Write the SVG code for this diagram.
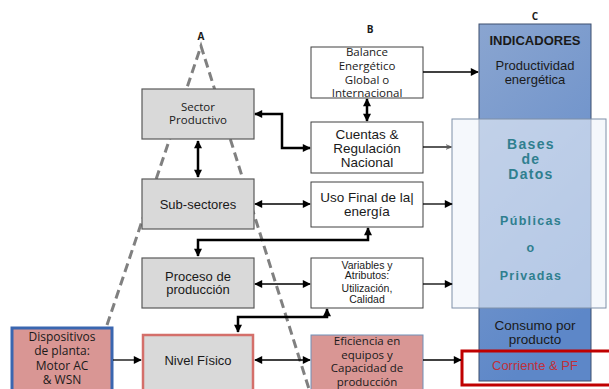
<svg xmlns="http://www.w3.org/2000/svg" width="609" height="389" viewBox="0 0 609 389">
<style>
.gray{fill:#d9d9d9;stroke:#595959;stroke-width:1.2}
.white{fill:#ffffff;stroke:#404040;stroke-width:1}
.t{font-family:"Liberation Sans",Arial,sans-serif;fill:#1a1a1a;text-anchor:middle}
.o{font-family:"Open Sans","Liberation Sans",sans-serif;fill:#1a1a1a;text-anchor:middle}
.lbl{font-family:"Open Sans","Liberation Sans",sans-serif;font-weight:bold;font-size:10px;fill:#1a1a1a;text-anchor:middle}
.db{font-family:"Liberation Sans",Arial,sans-serif;font-weight:bold;fill:#2f7f8f;text-anchor:middle;letter-spacing:1.3px}
.thick{fill:none;stroke:#000;stroke-width:2.5}
.thin{fill:none;stroke:#000;stroke-width:1.3}
.dash{fill:none;stroke:#808080;stroke-width:3;stroke-dasharray:9 5}
</style>
<defs>
<marker id="ah" viewBox="0 0 10 10" refX="9" refY="5" markerWidth="9" markerHeight="8" markerUnits="userSpaceOnUse" orient="auto-start-reverse">
<path d="M0,0 L10,5 L0,10 z" fill="#000"/>
</marker>
<marker id="ahs" viewBox="0 0 10 10" refX="9" refY="5" markerWidth="6" markerHeight="6" markerUnits="userSpaceOnUse" orient="auto">
<path d="M0,1 L10,5 L0,9" fill="none" stroke="#555" stroke-width="1.5"/>
</marker>
<linearGradient id="ind" x1="0" y1="0" x2="0.3" y2="1">
<stop offset="0" stop-color="#8aa5d0"/>
<stop offset="1" stop-color="#5d87c8"/>
</linearGradient>
</defs>

<g id="triangle">
<path class="dash" d="M107,325 L201,46 L309,389"/>
</g>
<g id="labels">
<text class="lbl" x="201" y="40">A</text>
<text class="lbl" x="370" y="33">B</text>
<text class="lbl" x="535" y="20">C</text>
</g>

<g id="indicadores">
<rect x="479" y="24" width="112" height="357" fill="url(#ind)" stroke="#3d4f6e" stroke-width="1"/>
<text class="t" x="535" y="45" font-size="13" font-weight="bold">INDICADORES</text>
<text class="t" x="535" y="70" font-size="13">Productividad</text>
<text class="t" x="535" y="84" font-size="13">energética</text>
<text class="t" x="535" y="330" font-size="13.5">Consumo por</text>
<text class="t" x="535" y="344" font-size="13.5">producto</text>
</g>

<g id="bases">
<rect x="452" y="119" width="154" height="189" fill="#eef3fa" fill-opacity="0.6" stroke="#7f90a8" stroke-width="1"/>
<text class="db" x="531" y="149" font-size="14">Bases</text>
<text class="db" x="531" y="164" font-size="14">de</text>
<text class="db" x="531" y="179" font-size="14">Datos</text>
<text class="db" x="531" y="225" font-size="12.5">Públicas</text>
<text class="db" x="531" y="252" font-size="12.5">o</text>
<text class="db" x="531" y="280" font-size="12.5">Privadas</text>
</g>

<g id="corriente">
<rect x="462" y="351" width="150" height="34" fill="none" stroke="#c00000" stroke-width="3"/>
<text class="t" x="535" y="370" font-size="13" style="fill:#c0303a">Corriente  &amp; PF</text>
</g>

<g id="sector">
<rect class="gray" x="142" y="89" width="112" height="50"/>
<text class="o" x="198" y="111" font-size="11.5">Sector</text>
<text class="o" x="198" y="124" font-size="11.5">Productivo</text>
</g>
<g id="subsectores">
<rect class="gray" x="142" y="179" width="112" height="50"/>
<text class="t" x="198" y="209" font-size="13">Sub-sectores</text>
</g>
<g id="proceso">
<rect class="gray" x="142" y="258" width="112" height="50"/>
<text class="t" x="198" y="281" font-size="13">Proceso de</text>
<text class="t" x="198" y="294" font-size="13">producción</text>
</g>
<g id="nivel">
<rect x="143" y="335" width="110" height="57" fill="#d9d9d9" stroke="#d46f6a" stroke-width="2.5"/>
<text class="t" x="198" y="365" font-size="13">Nivel Físico</text>
</g>
<g id="dispositivos">
<rect x="12" y="328" width="100" height="64" fill="#d99694" stroke="#3a66b0" stroke-width="3"/>
<text class="o" x="62" y="341" font-size="12">Dispositivos</text>
<text class="o" x="62" y="355" font-size="12">de planta:</text>
<text class="o" x="62" y="370" font-size="12">Motor AC</text>
<text class="o" x="62" y="384" font-size="12">&amp; WSN</text>
</g>

<g id="balance">
<rect class="white" x="311" y="47" width="112" height="51"/>
<text class="o" x="367" y="56" font-size="11.5">Balance</text>
<text class="o" x="367" y="70" font-size="11.5">Energético</text>
<text class="o" x="367" y="84" font-size="11.5">Global o</text>
<text class="o" x="367" y="97" font-size="11.5">Internacional</text>
</g>
<g id="cuentas">
<rect class="white" x="311" y="122" width="112" height="51"/>
<text class="t" x="367" y="139" font-size="13.5">Cuentas &amp;</text>
<text class="t" x="367" y="153" font-size="13.5">Regulación</text>
<text class="t" x="367" y="167" font-size="13.5">Nacional</text>
</g>
<g id="usofinal">
<rect class="white" x="311" y="182" width="112" height="45"/>
<text class="t" x="367" y="202" font-size="13.5">Uso Final de la|</text>
<text class="t" x="367" y="216" font-size="13.5">energía</text>
</g>
<g id="variables">
<rect class="white" x="311" y="258" width="112" height="50"/>
<text class="t" x="367" y="269" font-size="10.5">Variables y</text>
<text class="t" x="367" y="279" font-size="10.5">Atributos:</text>
<text class="t" x="367" y="292" font-size="10.5">Utilización,</text>
<text class="t" x="367" y="303" font-size="10.5">Calidad</text>
</g>
<g id="eficiencia">
<rect x="311" y="335" width="112" height="57" fill="#d99694" stroke="#6f8fb8" stroke-width="1"/>
<text class="o" x="367" y="345" font-size="11.5">Eficiencia en</text>
<text class="o" x="367" y="358.5" font-size="11.5">equipos y</text>
<text class="o" x="367" y="372" font-size="11.5">Capacidad de</text>
<text class="o" x="367" y="385.5" font-size="11.5">producción</text>
</g>

<g id="connectors">
<path class="thick" d="M198,141 V177" marker-start="url(#ah)" marker-end="url(#ah)"/>
<path class="thick" d="M255,114 H282 V148 H310" stroke-width="2" marker-start="url(#ah)" marker-end="url(#ah)"/>
<path class="thick" d="M367,99 V121" marker-start="url(#ah)" marker-end="url(#ah)"/>
<path class="thin" d="M255,204 H310" stroke-width="1.6" marker-start="url(#ah)" marker-end="url(#ah)"/>
<path class="thick" d="M198,256 V240 H368 V228" marker-start="url(#ah)" marker-end="url(#ah)"/>
<path class="thin" d="M255,284 H310" stroke-width="1.6" marker-start="url(#ah)" marker-end="url(#ah)"/>
<path class="thick" d="M238,332 V317 H327 V309" marker-start="url(#ah)" marker-end="url(#ah)"/>
<path class="thin" d="M113,360 H141" stroke-width="1" marker-end="url(#ah)"/>
<path class="thin" d="M255,360 H310" stroke-width="1.6" marker-start="url(#ah)" marker-end="url(#ah)"/>
<path class="thin" d="M423,72 H478" stroke-width="1" marker-end="url(#ah)"/>
<path class="thin" d="M423,147 H451" stroke="#555" stroke-width="1" marker-end="url(#ahs)"/>
<path class="thin" d="M423,204 H452" stroke-width="1" marker-end="url(#ah)"/>
<path class="thin" d="M423,284 H452" stroke-width="1" marker-end="url(#ah)"/>
<path class="thin" d="M423,360 H461" stroke-width="1" marker-end="url(#ah)"/>
</g>
</svg>
